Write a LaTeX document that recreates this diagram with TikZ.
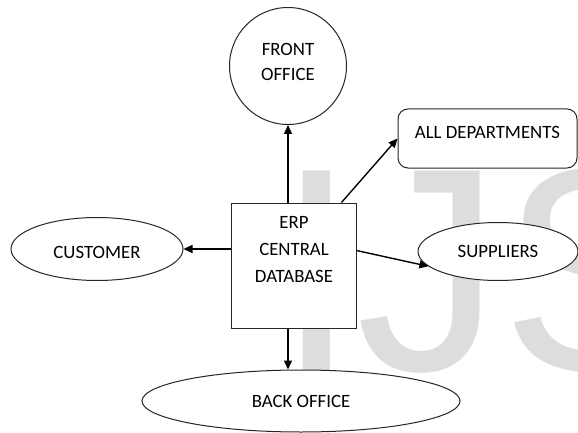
\documentclass[tikz,border=0pt]{standalone}
\usepackage{fontspec}
\setmainfont{Carlito}
\newfontfamily\wmfont{Liberation Sans}
\usetikzlibrary{shapes.geometric,arrows.meta,calc}
\tikzset{
  lbl/.style={font=\fontsize{18.8}{26.5}\selectfont, text=black, align=center},
  shapebox/.style={draw=black!85, line width=1pt, fill=white, inner sep=0pt, lbl},
  ell/.style={shapebox, ellipse},
  conn/.style={draw=black, line width=1.4pt, -{Triangle[length=9pt,width=8pt]}}
}
\begin{document}
\begin{tikzpicture}[x=1pt,y=-1pt]
\useasboundingbox[fill=white] (0,0) rectangle (578,433);
% watermark
\node[anchor=base west, inner sep=0pt, text=gray!27, font=\wmfont\fontsize{290}{290}\selectfont] (wm) at (276,370) {IJS};
% shapes
\node[shapebox, circle, minimum size=117pt, font=\fontsize{18.8}{25}\selectfont, text depth=8pt] (fo) at (288,66) {FRONT\\OFFICE};
\node[shapebox, rounded corners=10pt, minimum width=179pt, minimum height=59pt, text height=13pt, text depth=12pt] (ad) at (487.5,138.5) {ALL DEPARTMENTS};
\node[shapebox, minimum width=125pt, minimum height=125pt] (erp) at (293.5,265.5) {};
\node[lbl, inner sep=0pt, font=\fontsize{18.8}{27}\selectfont] (erptext) at (294,250) {ERP\\CENTRAL\\DATABASE};
\node[ell, minimum width=172pt, minimum height=63pt, text height=19pt, text depth=0pt] (cust) at (97,249) {CUSTOMER};
\node[ell, minimum width=160pt, minimum height=58pt] (sup) at (498,251.5) {SUPPLIERS};
\node[ell, minimum width=318pt, minimum height=62pt] (bo) at (301,401) {BACK OFFICE};
% connectors
\draw[conn] (fo.south |- erp.north) -- (fo.south);
\draw[conn] ($(erp.north east)+(-15,0)$) -- (ad.west);
\draw[conn] (erp.west |- cust.east) -- (cust.east);
\draw[conn] ($(erp.east)+(0,-15)$) -- (sup.192);
\draw[conn] (fo.south |- erp.south) -- (fo.south |- bo.north);
\end{tikzpicture}
\end{document}
